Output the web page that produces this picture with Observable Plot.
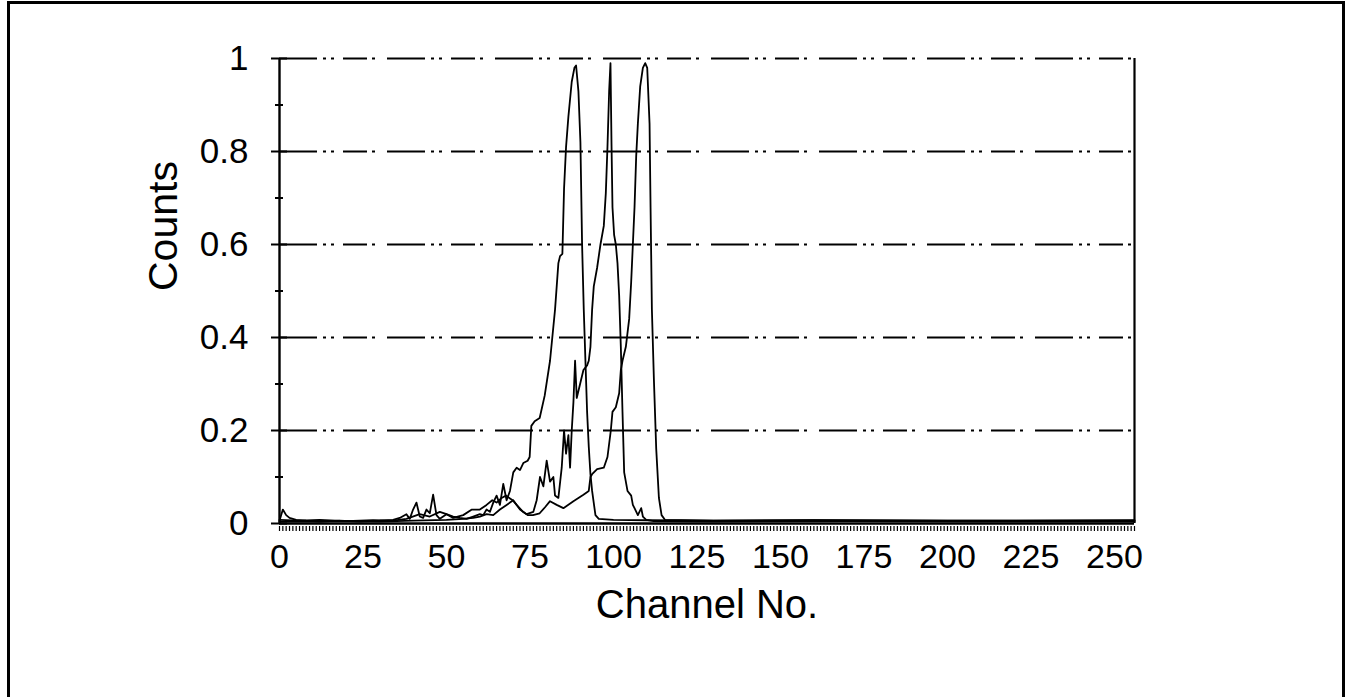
<!DOCTYPE html>
<html><head><meta charset="utf-8">
<script src="https://cdn.jsdelivr.net/npm/d3@7"></script>
<script src="https://cdn.jsdelivr.net/npm/@observablehq/plot@0.6"></script>
<style>
html,body{margin:0;padding:0;background:#fff;overflow:hidden;width:1354px;height:697px;}
#wrap{position:relative;width:1354px;height:697px;overflow:hidden;}
#border{position:absolute;left:7px;top:1px;width:1332px;height:760px;border:3px solid #000;pointer-events:none;}
#chart{position:absolute;left:0;top:0;}
</style></head><body><div id="wrap"><div id="chart"></div><div id="border"></div></div>
<script>
const xTitle = "Channel No.";
const yTitle = "Counts";
const xTickLabels = [0, 25, 50, 75, 100, 125, 150, 175, 200, 225, 250];
const yTickLabels = [0, 0.2, 0.4, 0.6, 0.8, 1];
const yMinorTicks = [0.1, 0.3, 0.5, 0.7, 0.9];
const gridValues = [0.2, 0.4, 0.6, 0.8, 1];
const xDomain = [0, 256];
const yDomain = [0, 1];

// [channel, normalized counts]
const seriesA = [
  [0,0.006],[1,0.03],[2,0.018],[3,0.012],[5,0.008],[8,0.006],[12,0.004],[18,0.006],[24,0.004],[30,0.006],
  [34,0.008],[36,0.012],[38,0.02],[39,0.01],[40,0.03],[41,0.045],[42,0.015],[43,0.012],[44,0.03],[45,0.022],
  [46,0.062],[47,0.018],[48,0.01],[50,0.02],[52,0.015],[54,0.012],[56,0.01],[58,0.015],[60,0.02],[61,0.018],
  [62,0.03],[63,0.025],[64,0.045],[65,0.06],[66,0.04],[67,0.085],[68,0.05],[69,0.07],[70,0.11],[71,0.12],
  [72,0.115],[73,0.13],[74.3,0.135],[74.9,0.143],[75.4,0.21],[76.4,0.22],[77.9,0.227],[79.4,0.275],[81,0.35],
  [82.5,0.46],[83.5,0.56],[84,0.575],[84.7,0.58],[85.2,0.72],[85.8,0.81],[86.5,0.875],[87.5,0.95],[88.3,0.98],
  [88.8,0.985],[89.5,0.93],[90.1,0.82],[90.6,0.6],[91.1,0.46],[91.6,0.35],[92.1,0.24],[92.6,0.165],[93.1,0.106],
  [93.6,0.07],[94.6,0.018],[95.6,0.01],[100,0.008],[110,0.007],[130,0.006],[160,0.007],[200,0.006],[256,0.006]
];
const seriesB = [
  [0,0.004],[10,0.004],[20,0.005],[30,0.004],[40,0.006],[50,0.008],[55,0.01],[58,0.012],[60,0.015],[62,0.02],
  [64,0.018],[66,0.03],[68,0.04],[70,0.05],[72,0.03],[74,0.02],[76,0.025],[77,0.05],[78,0.1],[79,0.08],
  [80,0.135],[81,0.09],[82,0.1],[82.5,0.06],[83.5,0.055],[84.5,0.12],[85.2,0.2],[85.8,0.15],[86.5,0.19],[87,0.12],
  [87.5,0.2],[88,0.26],[88.5,0.35],[89,0.27],[90,0.3],[91,0.33],[92.1,0.34],[92.6,0.35],[93.1,0.38],[93.6,0.46],
  [94.1,0.51],[95.1,0.55],[96.1,0.6],[97.1,0.64],[97.7,0.71],[98.2,0.81],[98.7,0.93],[99.1,0.99],[99.4,0.82],
  [99.7,0.68],[100.2,0.62],[100.7,0.6],[101.2,0.56],[101.7,0.49],[102.2,0.38],[102.7,0.24],[103.2,0.11],
  [104.2,0.07],[105.3,0.06],[105.8,0.04],[106.3,0.033],[107.3,0.018],[108.3,0.033],[108.8,0.015],[109.8,0.008],
  [112,0.005],[130,0.004],[170,0.005],[210,0.004],[256,0.004]
];
const seriesC = [
  [0,0.008],[6,0.006],[12,0.008],[20,0.005],[28,0.007],[34,0.006],[38,0.01],[42,0.02],[45,0.015],[48,0.025],
  [50,0.02],[52,0.012],[55,0.018],[57.6,0.03],[60,0.03],[62,0.04],[63.7,0.05],[65,0.045],[66.5,0.055],[67.8,0.06],
  [69.8,0.05],[71,0.04],[72.8,0.026],[74.3,0.018],[75.9,0.018],[77.9,0.022],[79.5,0.035],[81,0.048],[83,0.04],
  [85,0.033],[88,0.048],[91,0.062],[92.6,0.07],[93.1,0.1],[93.6,0.106],[95.1,0.117],[97.1,0.12],[98.2,0.143],
  [99.2,0.2],[99.7,0.24],[100.7,0.25],[101.7,0.28],[102.2,0.33],[102.7,0.35],[103.7,0.38],[104.7,0.44],
  [105.3,0.52],[105.8,0.6],[106.3,0.68],[106.8,0.79],[107.3,0.86],[108,0.94],[108.8,0.98],[109.5,0.99],
  [110.1,0.98],[110.8,0.86],[111.1,0.68],[111.5,0.46],[112.1,0.31],[112.8,0.16],[113.6,0.055],[114.4,0.018],
  [115.4,0.008],[130,0.006],[160,0.007],[200,0.006],[256,0.007]
];

const rows = [
  ...seriesA.map(([channel, count]) => ({series: "A", channel, count})),
  ...seriesB.map(([channel, count]) => ({series: "B", channel, count})),
  ...seriesC.map(([channel, count]) => ({series: "C", channel, count}))
];

const font = "'Liberation Sans', Arial, Helvetica, sans-serif";
const gridDash = "38,6,3,5,3,9,24,5,3,12";

const chart = Plot.plot({
  width: 1354,
  height: 697,
  marginLeft: 279,
  marginRight: 220,
  marginTop: 58,
  marginBottom: 174,
  style: {fontFamily: font, background: "transparent", color: "#000"},
  x: {domain: xDomain, axis: null, label: null},
  y: {domain: yDomain, axis: null, label: null},
  marks: [
    Plot.ruleY(gridValues, {stroke: "#000", strokeWidth: 2, strokeDasharray: gridDash}),
    Plot.ruleX([xDomain[1]], {stroke: "#000", strokeWidth: 2.2}),
    Plot.ruleX([xDomain[0]], {stroke: "#000", strokeWidth: 2.4}),
    Plot.ruleY([0], {stroke: "#000", strokeWidth: 2.6}),
    Plot.axisY({ticks: yTickLabels, tickSize: 16, dx: 8, tickFormat: () => "", strokeWidth: 2, label: null}),
    Plot.axisY({ticks: yMinorTicks, tickSize: 8, dx: 4, tickFormat: () => "", strokeWidth: 2, label: null}),
    Plot.axisY({ticks: yTickLabels, tickSize: 0, tickPadding: 31, fontSize: 35, tickFormat: d => String(d), label: null}),
    Plot.axisX({ticks: d3.range(xDomain[0], xDomain[1] + 1, 1), tickSize: 5, dy: 3, tickFormat: () => "", strokeWidth: 1.2, label: null}),
    Plot.axisX({ticks: xTickLabels, tickSize: 0, tickPadding: 20, fontSize: 34, tickFormat: d => String(d), label: null}),
    Plot.line(rows, {x: "channel", y: "count", z: "series", stroke: "#000", strokeWidth: 1.8, strokeLinejoin: "round"}),
    Plot.text([xTitle], {frameAnchor: "bottom", lineAnchor: "top", dy: 66, fontSize: 40, fill: "#000"}),
    Plot.text([yTitle], {frameAnchor: "left", rotate: -90, lineAnchor: "middle", dx: -116, fontSize: 41, fill: "#000"})
  ]
});
document.getElementById("chart").appendChild(chart);
</script>
</body></html>
